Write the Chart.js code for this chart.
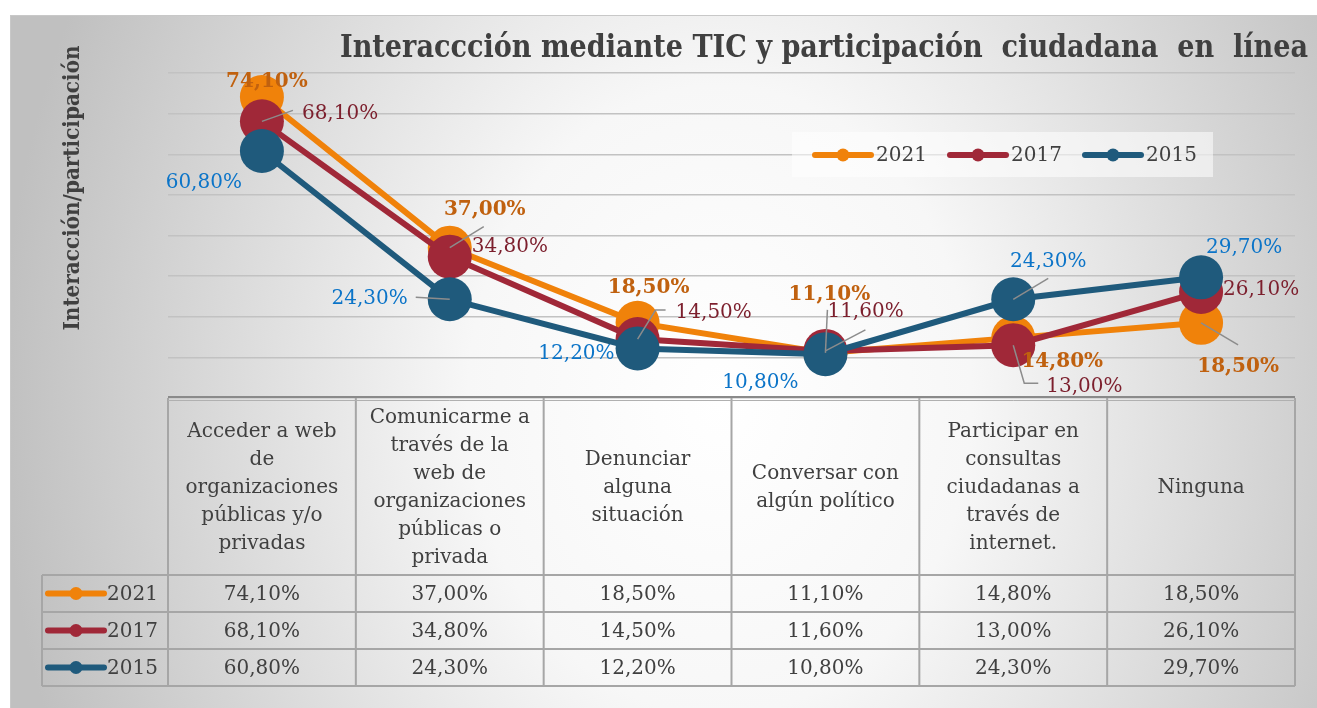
<!DOCTYPE html>
<html>
<head>
<meta charset="utf-8">
<script src="https://cdn.jsdelivr.net/npm/chart.js@4.4.1/dist/chart.umd.min.js"></script>
<style>
  html, body { margin: 0; padding: 0; background: #fff; }
</style>
</head>
<body>
<canvas id="chart" width="1317" height="708"></canvas>
<script>
// Data
const categories = [
    ['Acceder a web', 'de', 'organizaciones', 'públicas y/o', 'privadas'],
    ['Comunicarme a', 'través de la', 'web de', 'organizaciones', 'públicas o', 'privada'],
    ['Denunciar', 'alguna', 'situación'],
    ['Conversar con', 'algún político'],
    ['Participar en', 'consultas', 'ciudadanas a', 'través de', 'internet.'],
    ['Ninguna']
];
const seriesNames = ['2021', '2017', '2015'];
const values2021 = [74.1, 37.0, 18.5, 11.1, 14.8, 18.5];
const values2017 = [68.1, 34.8, 14.5, 11.6, 13.0, 26.1];
const values2015 = [60.8, 24.3, 12.2, 10.8, 24.3, 29.7];
const seriesValues = [values2021, values2017, values2015];
const yMin = 0, yMax = 80, yStep = 10;

const chartTitle = 'Interaccción mediante TIC y participación  ciudadana  en  línea';
const yTitle = 'Interacción/participación';

// Styles
const SERIF = '"DejaVu Serif", "Liberation Serif", serif';
const lineColors = ['#F0820A', '#A02838', '#1F5A7C'];
const labelColors = ['#C0610F', '#7C1F2D', '#0B74C8'];
const labelBold = [true, false, false];
const textGrey = '#404040';

// label placement relative to each point: dx, dy, align, leader polyline
const labelPlacement = [
    [ {dx: 5, dy: -15, al: 'center'},
      {dx: 35, dy: -38, al: 'center', lead: [[34, -21]]},
      {dx: 11, dy: -35, al: 'center'},
      {dx: 4, dy: -58, al: 'center', lead: [[2, -43]]},
      {dx: 49, dy: 24, al: 'center'},
      {dx: 37, dy: 44, al: 'center', lead: [[37, 22]]} ],
    [ {dx: 40, dy: -8, al: 'left', lead: [[31, -11]]},
      {dx: 22, dy: -10, al: 'left'},
      {dx: 38, dy: -26, al: 'left', lead: [[18, -29], [28, -29]]},
      {dx: 2, dy: -39, al: 'left', lead: [[40, -21]]},
      {dx: 33, dy: 42, al: 'left', lead: [[11, 38], [25, 38]]},
      {dx: 22, dy: -2, al: 'left'} ],
    [ {dx: -20, dy: 32, al: 'right'},
      {dx: -42, dy: 0, al: 'right', lead: [[-34, -2]]},
      {dx: -23, dy: 5, al: 'right'},
      {dx: -65, dy: 29, al: 'center'},
      {dx: 35, dy: -37, al: 'center', lead: [[35, -21]]},
      {dx: 43, dy: -30, al: 'center'} ]
];

const fmt = v => v.toFixed(2).replace('.', ',') + '%';

// draws text squeezed/stretched to a given width
function fitText(ctx, text, font, x, y, width, rotate) {
    ctx.save();
    ctx.font = font;
    const w = ctx.measureText(text).width;
    ctx.translate(x, y);
    if (rotate) ctx.rotate(-Math.PI / 2);
    ctx.scale(width / w, 1);
    ctx.textAlign = 'center';
    ctx.textBaseline = 'middle';
    ctx.fillText(text, 0, 0);
    ctx.restore();
}

function legendKey(ctx, x, y, len, color) {
    ctx.strokeStyle = color;
    ctx.lineWidth = 6;
    ctx.lineCap = 'round';
    ctx.beginPath();
    ctx.moveTo(x, y);
    ctx.lineTo(x + len, y);
    ctx.stroke();
    ctx.fillStyle = color;
    ctx.beginPath();
    ctx.arc(x + len / 2, y, 6.5, 0, Math.PI * 2);
    ctx.fill();
}

const backgroundPlugin = {
    id: 'background',
    beforeDraw(chart) {
        const ctx = chart.ctx;
        ctx.save();
        ctx.fillStyle = '#fff';
        ctx.fillRect(0, 0, chart.width, chart.height);
        const bx = 10, by = 15, bw = chart.width - 10, bh = chart.height - 15;
        ctx.save();
        ctx.beginPath();
        ctx.rect(bx, by, bw, bh);
        ctx.clip();
        ctx.translate(720, 400);
        ctx.scale(1, 1.25);
        const g = ctx.createRadialGradient(0, 0, 0, 0, 0, 720);
        g.addColorStop(0, '#ffffff');
        g.addColorStop(0.35, '#f7f7f7');
        g.addColorStop(1, '#c0c0c0');
        ctx.fillStyle = g;
        ctx.fillRect(-800, -400, 1600, 800);
        ctx.restore();
        ctx.strokeStyle = '#c8c8c8';
        ctx.lineWidth = 1;
        ctx.strokeRect(bx + 0.5, by + 0.5, bw, bh);
        ctx.restore();
    }
};

const legendPlugin = {
    id: 'topLegend',
    beforeDatasetsDraw(chart) {
        const ctx = chart.ctx;
        ctx.save();
        ctx.fillStyle = 'rgba(255,255,255,0.55)';
        ctx.fillRect(792, 132, 421, 45);
        ctx.font = '20px ' + SERIF;
        ctx.textBaseline = 'middle';
        ctx.textAlign = 'left';
        seriesNames.forEach((name, i) => {
            const x = 815 + i * 135;
            legendKey(ctx, x, 155, 56, lineColors[i]);
            ctx.fillStyle = textGrey;
            ctx.fillText(name, x + 61, 156);
        });
        ctx.restore();
    }
};

const labelPlugin = {
    id: 'pointLabels',
    afterDatasetsDraw(chart) {
        const ctx = chart.ctx;
        ctx.save();
        ctx.textBaseline = 'middle';
        seriesValues.forEach((vals, s) => {
            const meta = chart.getDatasetMeta(s);
            vals.forEach((v, i) => {
                const pt = meta.data[i];
                const p = labelPlacement[s][i];
                if (p.lead) {
                    ctx.strokeStyle = '#8c8c8c';
                    ctx.lineWidth = 1.5;
                    ctx.beginPath();
                    ctx.moveTo(pt.x, pt.y);
                    p.lead.forEach(l => ctx.lineTo(pt.x + l[0], pt.y + l[1]));
                    ctx.stroke();
                }
                ctx.font = (labelBold[s] ? 'bold ' : '') + '20px ' + SERIF;
                ctx.fillStyle = labelColors[s];
                ctx.textAlign = p.al;
                ctx.fillText(fmt(v), pt.x + p.dx, pt.y + p.dy);
            });
        });
        ctx.restore();
    }
};

const tablePlugin = {
    id: 'dataTable',
    afterDraw(chart) {
        const {ctx, chartArea: a, scales: {x}} = chart;
        const n = categories.length;
        const colW = (a.right - a.left) / n;
        const headBottom = a.bottom + 177;
        const rowH = 37;
        const legLeft = 42;
        const tableBottom = headBottom + rowH * seriesNames.length;
        ctx.save();

        // grid of the table
        ctx.strokeStyle = '#a6a6a6';
        ctx.lineWidth = 2;
        ctx.beginPath();
        for (let r = 0; r <= seriesNames.length; r++) {
            const y = headBottom + r * rowH;
            ctx.moveTo(legLeft, y);
            ctx.lineTo(a.right, y);
        }
        for (let c = 0; c <= n; c++) {
            const xx = a.left + c * colW;
            ctx.moveTo(xx, a.bottom);
            ctx.lineTo(xx, tableBottom);
        }
        ctx.moveTo(legLeft, headBottom);
        ctx.lineTo(legLeft, tableBottom);
        ctx.stroke();

        // axis line (double)
        ctx.strokeStyle = '#8a8a8a';
        ctx.lineWidth = 2;
        ctx.beginPath();
        ctx.moveTo(a.left, a.bottom - 1);
        ctx.lineTo(a.right, a.bottom - 1);
        ctx.stroke();
        ctx.strokeStyle = '#b0b0b0';
        ctx.lineWidth = 1;
        ctx.beginPath();
        ctx.moveTo(a.left, a.bottom + 2.5);
        ctx.lineTo(a.right, a.bottom + 2.5);
        ctx.stroke();

        // header texts
        ctx.fillStyle = textGrey;
        ctx.textAlign = 'center';
        ctx.textBaseline = 'middle';
        ctx.font = '20px ' + SERIF;
        const headMid = (a.bottom + headBottom) / 2 + 1;
        categories.forEach((lines, i) => {
            const cx = x.getPixelForValue(i);
            lines.forEach((t, k) => {
                ctx.fillText(t, cx, headMid + (k - (lines.length - 1) / 2) * 28);
            });
        });

        // values and legend keys
        seriesValues.forEach((vals, r) => {
            const cy = headBottom + r * rowH + rowH / 2 + 1;
            ctx.fillStyle = textGrey;
            ctx.textAlign = 'center';
            vals.forEach((v, i) => ctx.fillText(fmt(v), x.getPixelForValue(i), cy));
            legendKey(ctx, 48, cy - 1, 56, lineColors[r]);
            ctx.fillStyle = textGrey;
            ctx.textAlign = 'left';
            ctx.fillText(seriesNames[r], 107, cy);
        });

        // titles
        ctx.fillStyle = textGrey;
        fitText(ctx, chartTitle, 'bold 32px ' + SERIF, 824, 49, 968, false);
        fitText(ctx, yTitle, 'bold 22px ' + SERIF, 73, 188, 285, true);
        ctx.restore();
    }
};

new Chart(document.getElementById('chart'), {
    type: 'line',
    data: {
        labels: categories,
        datasets: seriesNames.map((name, i) => ({
            label: name,
            data: seriesValues[i],
            borderColor: lineColors[i],
            backgroundColor: lineColors[i],
            pointBackgroundColor: lineColors[i],
            pointBorderWidth: 0,
            pointRadius: 22,
            borderWidth: 6,
            tension: 0,
            order: 3 - i
        }))
    },
    options: {
        responsive: false,
        animation: false,
        devicePixelRatio: 1,
        layout: { padding: { left: 168, right: 17, top: 73, bottom: 310 } },
        plugins: { legend: { display: false }, tooltip: { enabled: false } },
        scales: {
            x: { display: false, offset: true },
            y: {
                min: yMin, max: yMax,
                ticks: { display: false, stepSize: yStep },
                grid: { color: '#c2c2c2', lineWidth: 1.5, drawTicks: false },
                border: { display: false }
            }
        }
    },
    plugins: [backgroundPlugin, legendPlugin, labelPlugin, tablePlugin]
});
</script>
</body>
</html>
